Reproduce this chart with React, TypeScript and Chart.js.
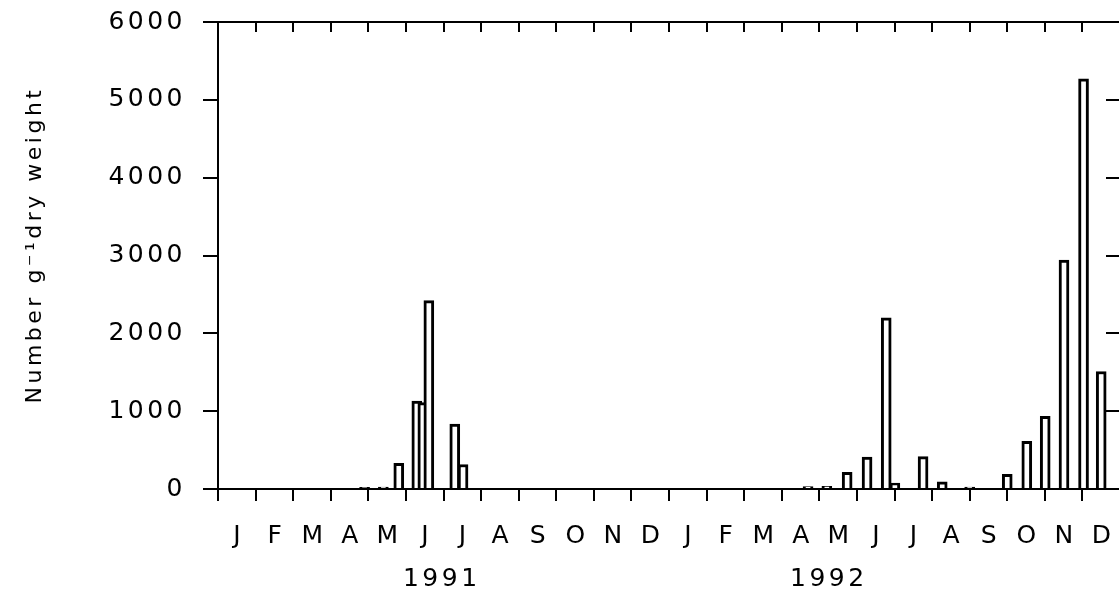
import React, { useEffect, useRef } from 'react';
import { Chart, registerables } from 'chart.js';

Chart.register(...registerables);

// ---- data ----
const monthLabels = ['J', 'F', 'M', 'A', 'M', 'J', 'J', 'A', 'S', 'O', 'N', 'D', 'J', 'F', 'M', 'A', 'M', 'J', 'J', 'A', 'S', 'O', 'N', 'D'];
const yearLabels = ['1991', '1992'];
const yearLabelAt = [5.9, 16.2]; // in months from 1 Jan 1991
const yTicks = [0, 1000, 2000, 3000, 4000, 5000, 6000];

// sampling dates (months since 1 Jan 1991) and counts (number g-1 dry weight)
const sampleMonth1991 = [3.9, 4.4, 4.81, 5.29, 5.45, 5.61, 6.3, 6.52];
const count1991 = [20, 25, 330, 1130, 1110, 2420, 835, 315];
const sampleMonth1992 = [15.7, 16.2, 16.74, 17.27, 17.78, 18.01, 18.76, 19.27, 20.0, 21.0, 21.52, 22.01, 22.51, 23.03, 23.5];
const count1992 = [30, 35, 215, 410, 2200, 75, 415, 93, 25, 190, 613, 935, 2940, 5270, 1510];

const INK = '#000';
const FONT_FAMILY = "'DejaVu Sans', sans-serif";
const SPACING = '3.5px';

const spacingPlugin = {
  id: 'letterSpacing',
  beforeUpdate(chart: any) { chart.ctx.letterSpacing = SPACING; },
  beforeLayout(chart: any) { chart.ctx.letterSpacing = SPACING; },
  beforeDraw(chart: any) { chart.ctx.letterSpacing = SPACING; },
};

const barStyle = {
  backgroundColor: '#fff',
  borderColor: INK,
  borderWidth: 3,
  barThickness: 10,
  borderSkipped: 'bottom' as const,
  grouped: false,
};

export default function App() {
  const ref = useRef<HTMLCanvasElement>(null);

  useEffect(() => {
    const tickFont = { family: FONT_FAMILY, size: 25 };
    const chart = new Chart(ref.current as HTMLCanvasElement, {
      type: 'bar',
      data: {
        datasets: [
          {
            label: '1991',
            data: sampleMonth1991.map((m, i) => ({ x: m, y: count1991[i] })),
            xAxisID: 'x',
            yAxisID: 'y',
            ...barStyle,
          },
          {
            label: '1992',
            data: sampleMonth1992.map((m, i) => ({ x: m, y: count1992[i] })),
            xAxisID: 'x',
            yAxisID: 'y',
            ...barStyle,
          },
        ],
      } as any,
      options: {
        animation: false,
        responsive: false,
        devicePixelRatio: 1,
        layout: { padding: 0 },
        plugins: { legend: { display: false }, tooltip: { enabled: false } },
        scales: {
          x: {
            type: 'linear',
            position: 'bottom',
            min: 0,
            max: 24,
            offset: false,
            afterBuildTicks: (s: any) => {
              s.ticks = monthLabels.map((_, i) => ({ value: i + 0.5 }));
            },
            ticks: {
              autoSkip: false,
              maxRotation: 0,
              minRotation: 0,
              color: INK,
              font: tickFont,
              padding: 20,
              labelOffset: 2,
              callback: (_v: any, i: number) => monthLabels[i],
            },
            grid: { offset: true, drawOnChartArea: false, tickLength: 12, color: INK, lineWidth: 2 },
            border: { display: true, color: INK, width: 2 },
            afterFit: (s: any) => { s.height = 70; s.paddingLeft = 0; s.paddingRight = 0; },
          },
          xYear: {
            type: 'linear',
            position: 'bottom',
            min: 0,
            max: 24,
            offset: false,
            afterBuildTicks: (s: any) => {
              s.ticks = yearLabelAt.map((v) => ({ value: v }));
            },
            ticks: {
              autoSkip: false,
              maxRotation: 0,
              color: INK,
              font: tickFont,
              padding: 5,
              labelOffset: 2,
              callback: (_v: any, i: number) => yearLabels[i],
            },
            grid: { display: false, drawTicks: false, offset: false },
            border: { display: false },
            afterFit: (s: any) => { s.height = 33; s.paddingLeft = 0; s.paddingRight = 0; },
          },
          xTop: {
            type: 'linear',
            position: 'top',
            min: 0,
            max: 24,
            offset: false,
            afterBuildTicks: (s: any) => {
              s.ticks = monthLabels.slice(1).map((_, i) => ({ value: i + 1 }));
            },
            ticks: { display: false },
            grid: { offset: false, drawOnChartArea: false, tickLength: -10, color: INK, lineWidth: 2 },
            border: { display: true, color: INK, width: 2 },
            afterFit: (s: any) => { s.height = 22; s.paddingLeft = 0; s.paddingRight = 0; },
          },
          y: {
            type: 'linear',
            position: 'left',
            min: 0,
            max: 6000,
            afterBuildTicks: (s: any) => {
              s.ticks = yTicks.map((v) => ({ value: v }));
            },
            ticks: { color: INK, font: tickFont, padding: 17, callback: (v: any) => String(v) },
            grid: { drawOnChartArea: false, tickLength: 15, color: INK, lineWidth: 2 },
            border: { display: true, color: INK, width: 2 },
            title: {
              display: true,
              text: '  Number g\u207B\u00B9dry weight',
              color: INK,
              font: { family: FONT_FAMILY, size: 22 },
              padding: { top: 22, bottom: 0 },
            },
            afterFit: (s: any) => { s.width = 218; s.paddingTop = 0; s.paddingBottom = 0; },
          },
          yRight: {
            type: 'linear',
            position: 'right',
            min: 0,
            max: 6000,
            afterBuildTicks: (s: any) => {
              s.ticks = yTicks.slice(1, 6).map((v) => ({ value: v }));
            },
            ticks: { display: false },
            grid: { drawOnChartArea: false, tickLength: -14, color: INK, lineWidth: 2 },
            border: { display: true, color: INK, width: 2 },
            afterFit: (s: any) => { s.width = 6; s.paddingTop = 0; s.paddingBottom = 0; },
          },
        } as any,
      },
      plugins: [spacingPlugin],
    });
    return () => chart.destroy();
  }, []);

  return (
    <div style={{ position: 'fixed', left: 0, top: 0, width: 1119, height: 592, overflow: 'hidden', background: '#fff' }}>
      <canvas ref={ref} width={1126} height={592} style={{ display: 'block', width: 1126, height: 592 }} />
    </div>
  );
}
